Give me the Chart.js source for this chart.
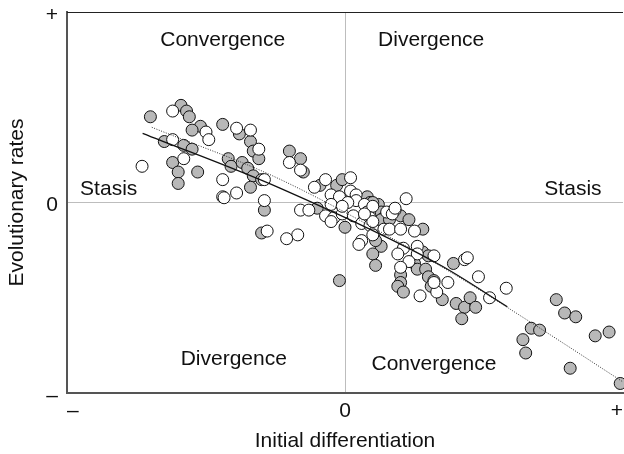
<!DOCTYPE html>
<html>
<head>
<meta charset="utf-8">
<script src="https://cdn.jsdelivr.net/npm/chart.js@4"></script>
<style>
    html, body { margin: 0; padding: 0; background: #fff; }
    #wrap { width: 624px; height: 454px; }
</style>
</head>
<body>
<div id="wrap"><canvas id="chart"></canvas></div>
<script>
// values; axis units run from -100 (–) to 100 (+)
const grayPoints = [
    [-70, 45], [-59, 51], [-57, 48], [-56, 45], [-52, 40], [-55, 38], [-44, 41], [-38, 36],
    [-34, 32], [-33, 27], [-31, 23], [-65, 32], [-58, 30], [-55, 28], [-62, 21], [-60, 16],
    [-60, 10], [-53, 16], [-42, 23], [-41, 19], [-37, 21], [-35, 18], [-33, 14], [-30, 12],
    [-34, 8], [-29, -4], [-30, -16], [-20, 27], [-16, 23], [-15, 16], [-9, 9], [-3, 9],
    [-1, 12], [-10, -3], [0, -13], [-2, -41], [8, 3], [9, 0], [12, -1], [13, -5],
    [20, -7], [23, -9], [28, -14], [13, -23], [10, -27], [11, -33], [28, -26], [30, -28],
    [25, -32], [26, -35], [29, -35], [30, -39], [32, -41], [20, -38], [20, -42], [19, -44],
    [21, -47], [31, -44], [35, -51], [39, -32], [40, -53], [43, -55], [45, -50], [47, -55],
    [42, -61], [76, -51], [79, -58], [83, -60], [67, -66], [70, -67], [64, -72], [65, -79],
    [90, -70], [95, -68], [81, -87], [99, -95], [10, 0], [14, -8], [11, -20], [13, -9],
    [16, -9]
];

const whitePoints = [
    [-62, 48], [-50, 37], [-49, 33], [-39, 39], [-34, 38], [-31, 28], [-62, 33], [-58, 23],
    [-73, 19], [-44, 12], [-29, 12], [-39, 5], [-44, 3], [-43.5, 2.5], [-29, 1], [-28, -15],
    [-20, 21], [-16, 17], [-11, 8], [-7, 12], [2, 13], [-5, 4], [-2, 3], [2, 6],
    [4, 4], [4, 1], [1, 0], [7, -1], [8, -5], [10, -2], [15, -5], [-16, -4],
    [-13, -4], [-7, -7], [-4, -8], [-5, -10], [-1, -6], [3, -7], [6, -11], [9, -8],
    [9, -12], [11, -15], [10, -17], [14, -14], [-17, -17], [-21, -19], [6, -20], [5, -22],
    [22, 2], [18, -4], [17, -6], [18, -3], [16, -14], [20, -14], [25, -15], [21, -24],
    [26, -23], [26, -27], [32, -28], [19, -27], [23, -31], [20, -34], [37, -42], [33, -47],
    [27, -49], [32, -42], [43, -30], [44, -29], [48, -39], [58, -45], [52, -50], [10, -10],
    [-5, -1], [-1, -2], [7, -6]
];

// fitted curves
const solidFit = [[-72.8, 36.3], [-23.4, 7.5], [34.2, -32.8], [58.4, -54.7]];
const dottedFit = [[-69.5, 39.5], [-23.4, 12.2], [34.2, -33.3], [66.5, -62.6], [100, -94.2]];

const tickLabels = { '-100': '–', '0': '0', '100': '+' };

const quadrantLabels = [
    ['Convergence', -44, 85],
    ['Divergence', 31, 85],
    ['Stasis', -85, 7],
    ['Stasis', 82, 7],
    ['Divergence', -40, -82],
    ['Convergence', 32, -85]
];

const FONT = '"Liberation Sans", Arial, Helvetica, sans-serif';
const FONT_SIZE = 21;
const toXY = pts => pts.map(([x, y]) => ({ x, y }));

const frameAndLabels = {
    id: 'frameAndLabels',
    beforeDatasetsDraw(chart) {
        const { ctx, chartArea, scales } = chart;
        ctx.save();
        ctx.strokeStyle = '#222';
        ctx.lineWidth = 1;
        ctx.beginPath();
        ctx.moveTo(chartArea.left, chartArea.top + 0.5);
        ctx.lineTo(chartArea.right, chartArea.top + 0.5);
        ctx.stroke();

        ctx.fillStyle = '#111';
        ctx.font = FONT_SIZE + 'px ' + FONT;
        ctx.textAlign = 'center';
        ctx.textBaseline = 'middle';
        quadrantLabels.forEach(([text, x, y]) => {
            ctx.fillText(text, scales.x.getPixelForValue(x), scales.y.getPixelForValue(y));
        });
        ctx.restore();
    }
};

new Chart(document.getElementById('chart'), {
    type: 'scatter',
    data: {
        datasets: [
            {
                type: 'line',
                data: toXY(solidFit),
                borderColor: '#111',
                borderWidth: 1.3,
                pointRadius: 0,
                cubicInterpolationMode: 'monotone',
                order: 0
            },
            {
                type: 'line',
                data: toXY(dottedFit),
                borderColor: '#333',
                borderWidth: 1,
                borderDash: [1, 1.5],
                pointRadius: 0,
                cubicInterpolationMode: 'monotone',
                order: 0
            },
            {
                data: toXY(whitePoints),
                backgroundColor: '#ffffff',
                borderColor: '#111',
                borderWidth: 1,
                pointRadius: 6,
                order: 1
            },
            {
                data: toXY(grayPoints),
                backgroundColor: '#b8b8b8',
                borderColor: '#111',
                borderWidth: 1,
                pointRadius: 6,
                order: 2
            }
        ]
    },
    options: {
        responsive: true,
        maintainAspectRatio: false,
        animation: false,
        clip: false,
        layout: { autoPadding: false, padding: { top: 12, right: 1, left: 0, bottom: 0 } },
        plugins: {
            legend: { display: false },
            tooltip: { enabled: false }
        },
        scales: {
            x: {
                type: 'linear',
                min: -100,
                max: 100,
                afterFit: scale => {
                    scale.height = 61;
                    scale.paddingLeft = 0;
                    scale.paddingRight = 0;
                },
                ticks: {
                    stepSize: 100,
                    padding: 6,
                    align: 'inner',
                    maxRotation: 0,
                    color: '#111',
                    font: { family: FONT, size: FONT_SIZE },
                    callback: v => tickLabels[v] ?? ''
                },
                grid: {
                    drawTicks: false,
                    color: c => (c.tick && c.tick.value === 0 ? '#bdbdbd' : 'rgba(0,0,0,0)')
                },
                border: { color: '#555', width: 2 },
                title: {
                    display: true,
                    text: 'Initial differentiation',
                    color: '#111',
                    font: { family: FONT, size: FONT_SIZE },
                    padding: { top: 0, bottom: 0 }
                }
            },
            y: {
                type: 'linear',
                min: -100,
                max: 100,
                afterFit: scale => {
                    scale.width = 67;
                    scale.paddingTop = 0;
                    scale.paddingBottom = 0;
                },
                ticks: {
                    stepSize: 100,
                    padding: 9,
                    labelOffset: 3,
                    color: '#111',
                    font: { family: FONT, size: FONT_SIZE },
                    callback: v => tickLabels[v] ?? ''
                },
                grid: {
                    drawTicks: false,
                    color: c => (c.tick && c.tick.value === 0 ? '#bdbdbd' : 'rgba(0,0,0,0)')
                },
                border: { color: '#555', width: 2 },
                title: {
                    display: true,
                    text: 'Evolutionary rates',
                    color: '#111',
                    font: { family: FONT, size: FONT_SIZE },
                    padding: { top: 5, bottom: 0 }
                }
            }
        }
    },
    plugins: [frameAndLabels]
});
</script>
</body>
</html>
